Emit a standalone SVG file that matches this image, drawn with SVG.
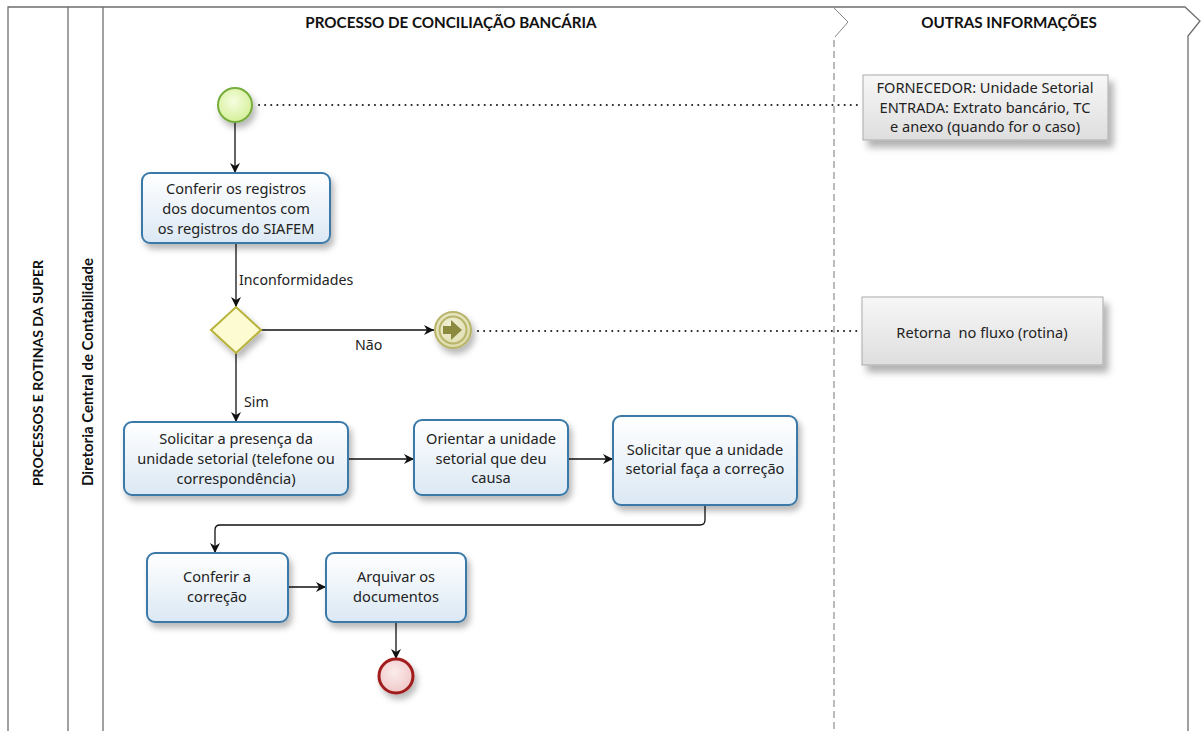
<svg xmlns="http://www.w3.org/2000/svg" width="1201" height="731" viewBox="0 0 1201 731">
<defs>
<style>
.lane{fill:none;stroke:#6e6e6e;stroke-width:1.3}
.dash{fill:none;stroke:#777;stroke-width:1;stroke-dasharray:7,4}
.hdr{font-family:Lato,"Open Sans",sans-serif;font-weight:bold;font-size:15.2px;fill:#111;text-anchor:middle}
.task rect{fill:url(#gTask);stroke:#3b79a8;stroke-width:2;filter:url(#sh)}
.t{font-family:"Noto Sans","Open Sans",sans-serif;font-size:14.6px;fill:#222;text-anchor:middle}
.lbl{font-family:"Noto Sans","Open Sans",sans-serif;font-size:14.2px;fill:#222}
.flow{fill:none;stroke:#111;stroke-width:1.3;marker-end:url(#arr)}
.assoc{fill:none;stroke:#222;stroke-width:2;stroke-dasharray:0.1,6;stroke-linecap:round}
.note rect{fill:url(#gNote);stroke:#aaa;stroke-width:1;filter:url(#sh2)}
</style>
<linearGradient id="gTask" x1="0" y1="0" x2="0" y2="1"><stop offset="0" stop-color="#ffffff"/><stop offset="1" stop-color="#dbe8f4"/></linearGradient>
<linearGradient id="gNote" x1="0" y1="0" x2="0" y2="1"><stop offset="0" stop-color="#f7f7f7"/><stop offset="1" stop-color="#dedede"/></linearGradient>
<radialGradient id="gStart" cx="0.45" cy="0.4" r="0.6"><stop offset="0" stop-color="#f6fde0"/><stop offset="1" stop-color="#d5f09a"/></radialGradient>
<radialGradient id="gEnd" cx="0.45" cy="0.4" r="0.6"><stop offset="0" stop-color="#fbecec"/><stop offset="1" stop-color="#f0c8c8"/></radialGradient>
<radialGradient id="gMid" cx="0.45" cy="0.4" r="0.6"><stop offset="0" stop-color="#f4f3dc"/><stop offset="1" stop-color="#dcdaa8"/></radialGradient>
<filter id="sh" x="-20%" y="-20%" width="150%" height="160%"><feDropShadow dx="3" dy="5" stdDeviation="3" flood-color="#000" flood-opacity="0.28"/></filter>
<filter id="sh2" x="-20%" y="-20%" width="150%" height="160%"><feDropShadow dx="5" dy="7" stdDeviation="3.5" flood-color="#000" flood-opacity="0.3"/></filter>
<marker id="arr" viewBox="0 0 10 10" refX="10" refY="5" markerWidth="10" markerHeight="10" markerUnits="userSpaceOnUse" orient="auto"><path d="M0,0 L10,5 L0,10 L3,5 Z" fill="#111"/></marker>
</defs>
<rect width="1201" height="731" fill="#fff"/>

<g id="pool">
<path class="lane" d="M8,735 V7 H833"/>
<line class="lane" x1="68" y1="7" x2="68" y2="735"/>
<line class="lane" x1="103" y1="7" x2="103" y2="735"/>
<path class="lane" d="M833,7 H1185 L1200,21 L1188,36 V735" stroke-width="1.6"/>
<path d="M833,7 L848,22 L835,37" fill="none" stroke="#888" stroke-width="1"/>
<line class="dash" x1="834" y1="40" x2="834" y2="735"/>
<text class="hdr" x="451" y="28">PROCESSO DE CONCILIAÇÃO BANCÁRIA</text>
<text class="hdr" x="1009" y="28">OUTRAS INFORMAÇÕES</text>
<text class="hdr" style="font-size:14px" transform="translate(43,373) rotate(-90)">PROCESSOS E ROTINAS DA SUPER</text>
<text class="hdr" style="font-size:15px" transform="translate(93,372) rotate(-90)">Diretoria Central de Contabilidade</text>
</g>

<g id="connectors">
<path class="flow" d="M235,122 V173"/>
<path class="flow" d="M236,243 V307"/>
<path class="flow" d="M261,330 H434"/>
<path class="flow" d="M236,353 V422"/>
<path class="flow" d="M348,459 H414"/>
<path class="flow" d="M568,459 H613"/>
<path class="flow" d="M705,505 V520 Q705,525 700,525 H220 Q215,525 215,530 V553"/>
<path class="flow" d="M288,587 H326"/>
<path class="flow" d="M396,622 V659"/>
<path class="assoc" d="M259,105 H860"/>
<path class="assoc" d="M478,331 H860"/>
<text class="lbl" x="239" y="285">Inconformidades</text>
<text class="lbl" x="355" y="350">Não</text>
<text class="lbl" x="244" y="407">Sim</text>
</g>

<g id="start">
<circle cx="235" cy="105" r="17" fill="url(#gStart)" stroke="#77ad3a" stroke-width="2" filter="url(#sh)"/>
</g>

<g id="task-conferir-registros" class="task">
<rect x="142" y="173" width="188" height="70" rx="8"/>
<text class="t" x="236" y="194">Conferir os registros</text>
<text class="t" x="236" y="214">dos documentos com</text>
<text class="t" x="236" y="234">os registros do SIAFEM</text>
</g>

<g id="gateway">
<path d="M236,307 L261,330 L236,353 L211,330 Z" fill="#fcfbd2" stroke="#b7b23a" stroke-width="2" filter="url(#sh)"/>
</g>

<g id="intermediate">
<circle cx="453" cy="330" r="18" fill="url(#gMid)" stroke="#b8b46a" stroke-width="2" filter="url(#sh)"/>
<circle cx="453" cy="330" r="13.5" fill="none" stroke="#b8b46a" stroke-width="2"/>
<path d="M443,326 H451 V320 L462,330 L451,340 V334 H443 Z" fill="#8c8a3e"/>
</g>

<g id="note-fornecedor" class="note">
<rect x="863" y="75" width="245" height="65"/>
<text class="t" x="985" y="93">FORNECEDOR: Unidade Setorial</text>
<text class="t" x="985" y="113">ENTRADA: Extrato bancário, TC</text>
<text class="t" x="985" y="132">e anexo (quando for o caso)</text>
</g>

<g id="note-retorna" class="note">
<rect x="862" y="297" width="241" height="68"/>
<text class="t" x="982" y="338" xml:space="preserve">Retorna  no fluxo (rotina)</text>
</g>

<g id="task-solicitar-presenca" class="task">
<rect x="124" y="422" width="224" height="73" rx="8"/>
<text class="t" x="236" y="444">Solicitar a presença da</text>
<text class="t" x="236" y="464">unidade setorial (telefone ou</text>
<text class="t" x="236" y="484">correspondência)</text>
</g>

<g id="task-orientar" class="task">
<rect x="414" y="420" width="154" height="75" rx="8"/>
<text class="t" x="491" y="444">Orientar a unidade</text>
<text class="t" x="491" y="464">setorial que deu</text>
<text class="t" x="491" y="483">causa</text>
</g>

<g id="task-solicitar-correcao" class="task">
<rect x="613" y="416" width="184" height="89" rx="8"/>
<text class="t" x="705" y="455">Solicitar que a unidade</text>
<text class="t" x="705" y="474">setorial faça a correção</text>
</g>

<g id="task-conferir-correcao" class="task">
<rect x="147" y="553" width="141" height="69" rx="8"/>
<text class="t" x="217" y="582">Conferir a</text>
<text class="t" x="217" y="602">correção</text>
</g>

<g id="task-arquivar" class="task">
<rect x="326" y="553" width="140" height="69" rx="8"/>
<text class="t" x="396" y="582">Arquivar os</text>
<text class="t" x="396" y="602">documentos</text>
</g>

<g id="end">
<circle cx="396" cy="676" r="17" fill="url(#gEnd)" stroke="#a11c1c" stroke-width="3" filter="url(#sh)"/>
</g>
</svg>
